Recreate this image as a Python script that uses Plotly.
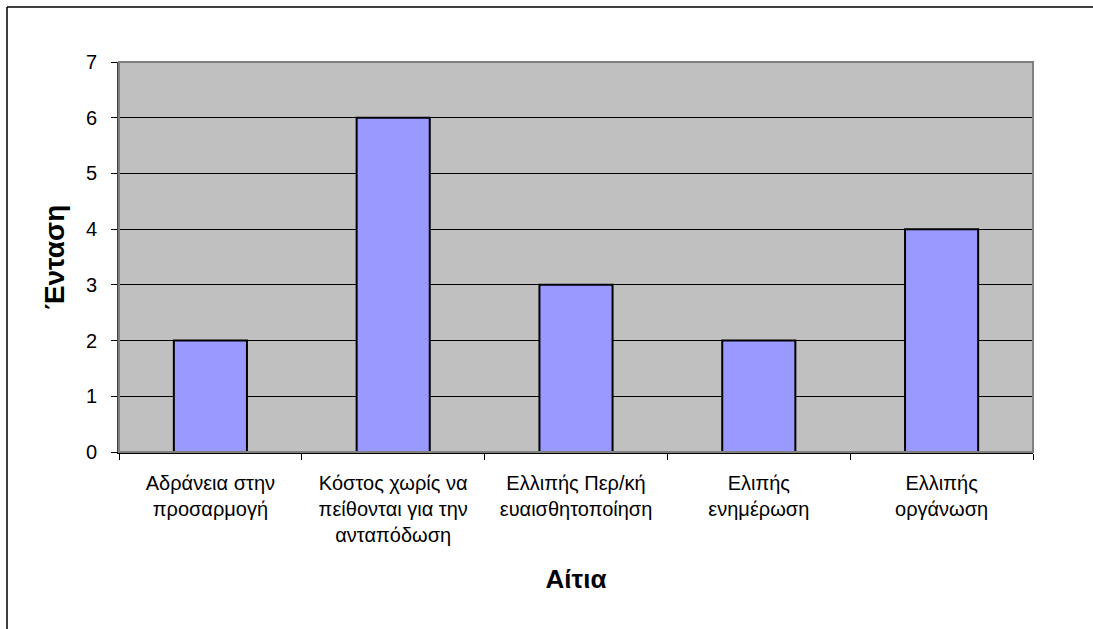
import plotly.graph_objects as go

categories = [
    "Αδράνεια στην<br>προσαρμογή",
    "Κόστος χωρίς να<br>πείθονται για την<br>ανταπόδωση",
    "Ελλιπής Περ/κή<br>ευαισθητοποίηση",
    "Ελιπής<br>ενημέρωση",
    "Ελλιπής<br>οργάνωση",
]
values = [2, 6, 3, 2, 4]
y_ticks = [0, 1, 2, 3, 4, 5, 6, 7]

x_title = "Αίτια"
y_title = "Ένταση"

FONT = "Liberation Sans, Arial, sans-serif"

fig = go.Figure()
fig.add_trace(go.Bar(
    x=categories,
    y=values,
    marker=dict(color="#9999FF", line=dict(color="#000000", width=2)),
    width=0.4,
))

W, H = 1093, 629
L, R, T, B = 119, 60, 62, 177
pw, ph = W - L - R, H - T - B

# outer chart-area border (only top and left edges are inside the picture)
bx0 = (7 - L) / pw
by1 = (H - B - 7) / ph
by0 = (H - B - H) / ph
bx1 = (W - L) / pw

fig.update_layout(
    width=W, height=H,
    margin=dict(l=L, r=R, t=T, b=B, pad=0),
    paper_bgcolor="#FFFFFF",
    plot_bgcolor="#C0C0C0",
    showlegend=False,
    font=dict(family=FONT, size=20, color="#000000"),
    shapes=[
        dict(type="rect", xref="paper", yref="paper",
             x0=0, x1=1, y0=0, y1=1,
             line=dict(color="#808080", width=2), layer="above"),
        dict(type="line", xref="paper", yref="paper",
             x0=bx0, x1=bx1, y0=by1, y1=by1,
             line=dict(color="#000000", width=1.5), layer="above"),
        dict(type="line", xref="paper", yref="paper",
             x0=bx0, x1=bx0, y0=by0, y1=by1,
             line=dict(color="#000000", width=1.5), layer="above"),
    ],
)

fig.update_xaxes(
    type="category",
    showline=True, linecolor="#000000", linewidth=1.5,
    ticks="outside", ticklen=6, tickcolor="#000000", tickwidth=1,
    tickson="boundaries",
    showgrid=False,
    tickfont=dict(size=20),
    ticklabelstandoff=12,
    title=dict(text="<b>" + x_title + "</b>", font=dict(size=26), standoff=25),
)
fig.update_yaxes(
    range=[0, 7],
    tickvals=y_ticks,
    showline=True, linecolor="#404040", linewidth=2,
    ticks="outside", ticklen=6, tickcolor="#000000", tickwidth=1,
    showgrid=True, gridcolor="#000000", gridwidth=1,
    zeroline=False,
    tickfont=dict(size=20),
    ticklabelstandoff=10,
    title=dict(text="<b>" + y_title + "</b>", font=dict(size=28), standoff=13),
)

fig.write_html(
    "out.html",
    config={"displayModeBar": False},
    post_script="document.body.style.margin='0';document.body.style.overflow='hidden';",
)
